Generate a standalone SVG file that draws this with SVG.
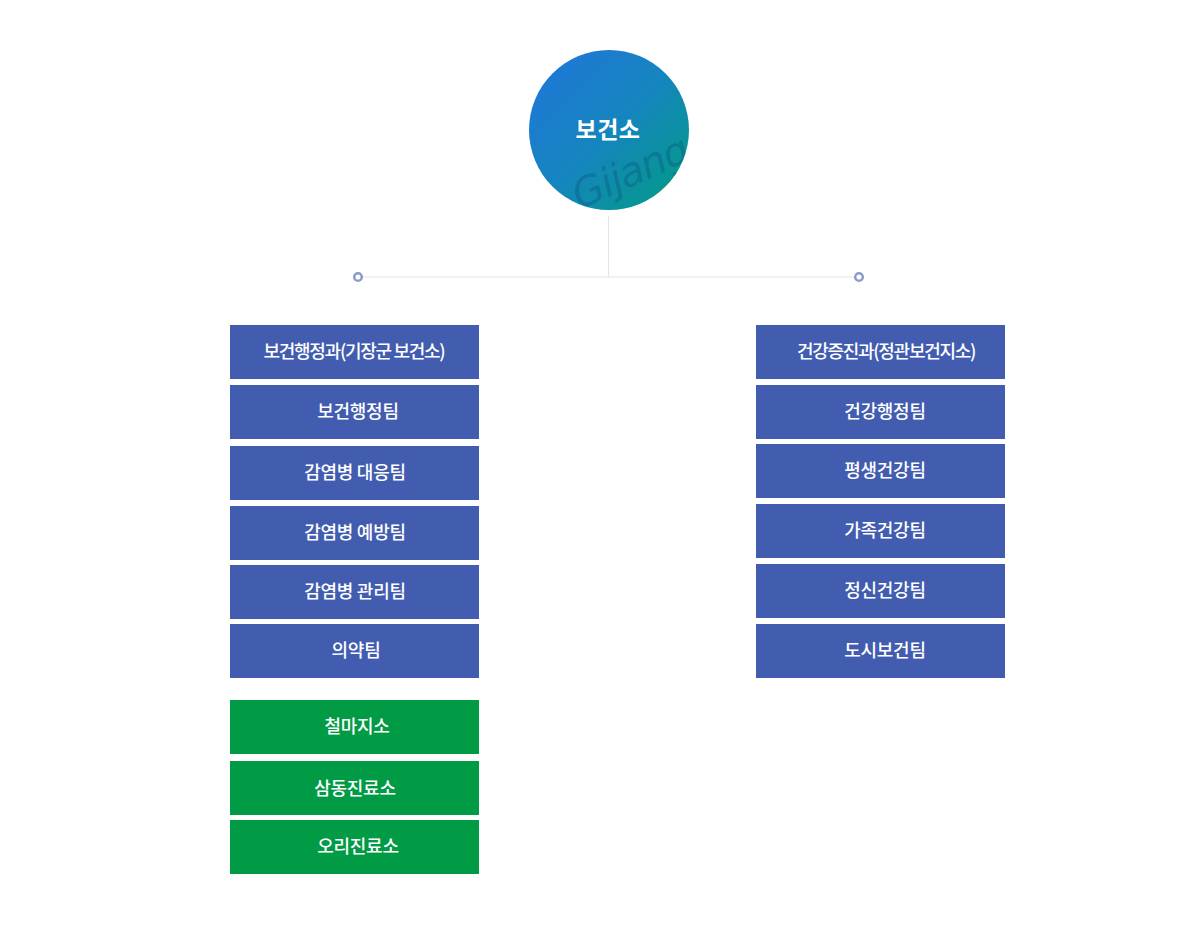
<svg xmlns="http://www.w3.org/2000/svg" width="1200" height="952" viewBox="0 0 1200 952">
<style>
.blue{fill:#425daf}
.green{fill:#019a45}
.lbl{font-family:"Noto Sans CJK KR","Noto Sans",sans-serif;font-size:18px;font-weight:500;fill:#ffffff;text-anchor:middle;letter-spacing:-0.3px}
.long{letter-spacing:-1.3px}
.line{stroke:#e4e4e4;stroke-width:1;fill:none}
.dot{fill:#ffffff;stroke:#8a9bc9;stroke-width:2.5}
</style>
<defs>
<linearGradient id="g" x1="0" y1="0" x2="1" y2="1">
<stop offset="0" stop-color="#2175db"/>
<stop offset="0.5" stop-color="#1585bf"/>
<stop offset="1" stop-color="#009d80"/>
</linearGradient>
<clipPath id="cc"><circle cx="609" cy="130" r="80"/></clipPath>
</defs>
<rect width="1200" height="952" fill="#ffffff"/>
<g id="connectors">
<line class="line" x1="608.5" y1="216" x2="608.5" y2="277"/>
<line class="line" x1="358" y1="277" x2="859" y2="277"/>
<circle class="dot" cx="358" cy="277" r="3.8"/>
<circle class="dot" cx="859" cy="277" r="3.8"/>
</g>
<g id="root">
<circle cx="609" cy="130" r="80" fill="url(#g)"/>
<g clip-path="url(#cc)">
<text x="630" y="186" transform="rotate(-24 630 172)" font-family="DejaVu Sans, sans-serif" font-style="italic" font-size="40" fill="#0b4f7c" fill-opacity="0.35" text-anchor="middle" letter-spacing="-1">Gijang</text>
</g>
<text x="608" y="138" font-family="'Noto Sans CJK KR','Noto Sans',sans-serif" font-weight="700" font-size="23" fill="#ffffff" text-anchor="middle" letter-spacing="0.5">보건소</text>
</g>
<g id="left">
<g id="n-l1"><rect class="blue" x="230" y="325" width="249" height="54"/><text class="lbl long" x="354" y="358">보건행정과(기장군 보건소)</text></g>
<g id="n-l2"><rect class="blue" x="230" y="385" width="249" height="54"/><text class="lbl" x="358" y="418">보건행정팀</text></g>
<g id="n-l3"><rect class="blue" x="230" y="446" width="249" height="54"/><text class="lbl" x="355" y="479">감염병 대응팀</text></g>
<g id="n-l4"><rect class="blue" x="230" y="506" width="249" height="54"/><text class="lbl" x="355" y="539">감염병 예방팀</text></g>
<g id="n-l5"><rect class="blue" x="230" y="565" width="249" height="54"/><text class="lbl" x="355" y="598">감염병 관리팀</text></g>
<g id="n-l6"><rect class="blue" x="230" y="624" width="249" height="54"/><text class="lbl" x="356" y="657">의약팀</text></g>
<g id="n-l7"><rect class="green" x="230" y="700" width="249" height="54"/><text class="lbl" x="357" y="733">철마지소</text></g>
<g id="n-l8"><rect class="green" x="230" y="761" width="249" height="54"/><text class="lbl" x="355" y="795">삼동진료소</text></g>
<g id="n-l9"><rect class="green" x="230" y="820" width="249" height="54"/><text class="lbl" x="358" y="853">오리진료소</text></g>
</g>
<g id="right">
<g id="n-r1"><rect class="blue" x="756" y="325" width="249" height="54"/><text class="lbl long" x="886" y="358">건강증진과(정관보건지소)</text></g>
<g id="n-r2"><rect class="blue" x="756" y="385" width="249" height="54"/><text class="lbl" x="885" y="418">건강행정팀</text></g>
<g id="n-r3"><rect class="blue" x="756" y="444" width="249" height="54"/><text class="lbl" x="885" y="477">평생건강팀</text></g>
<g id="n-r4"><rect class="blue" x="756" y="504" width="249" height="54"/><text class="lbl" x="885" y="537">가족건강팀</text></g>
<g id="n-r5"><rect class="blue" x="756" y="564" width="249" height="54"/><text class="lbl" x="885" y="597">정신건강팀</text></g>
<g id="n-r6"><rect class="blue" x="756" y="624" width="249" height="54"/><text class="lbl" x="885" y="657">도시보건팀</text></g>
</g>
</svg>
